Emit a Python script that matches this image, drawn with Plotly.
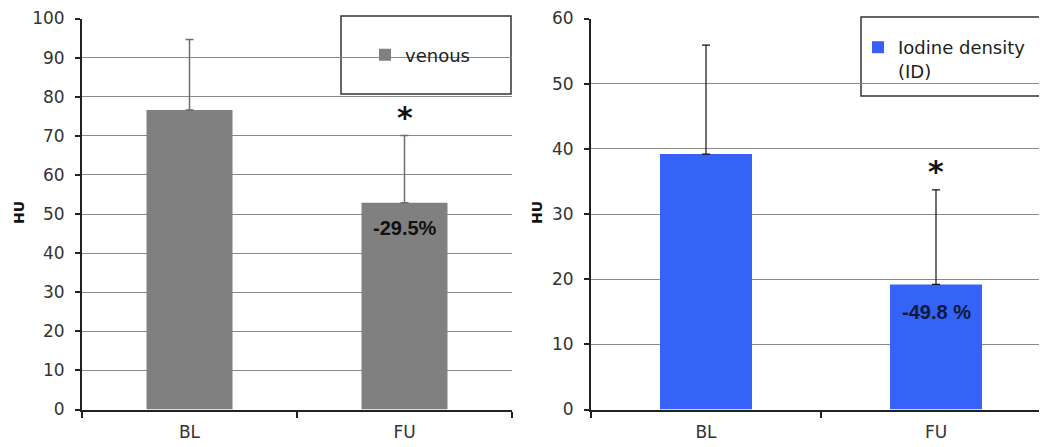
import plotly.graph_objects as go

# ---- data ----
categories = ["BL", "FU"]
venous_values = [76.6, 52.9]
venous_err = [18.0, 17.2]
id_values = [39.2, 19.2]
id_err = [16.7, 14.5]
venous_change = "-29.5%"
id_change = "-49.8 %"
left_ticks = list(range(0, 101, 10))
right_ticks = list(range(0, 61, 10))

W, H = 1047, 447
OFF = 8  # page body margin offset of the rendered figure


def px(x):
    return (x - OFF) / W


def py(y):
    return 1 - (y - OFF) / H


GRAY = "#808080"
BLUE = "#3562f7"
TICKFONT = dict(family="DejaVu Sans", size=17, color="#333333")

fig = go.Figure()

fig.add_trace(go.Bar(
    x=categories, y=venous_values, name="venous",
    marker=dict(color=GRAY, line=dict(width=0)),
    error_y=dict(type="data", symmetric=False, array=venous_err,
                 arrayminus=[0, 0], color="#6e6e6e", thickness=1.5, width=4),
    xaxis="x", yaxis="y", legend="legend",
))
fig.add_trace(go.Bar(
    x=categories, y=id_values, name="Iodine density<br>(ID)",
    marker=dict(color=BLUE, line=dict(width=0)),
    error_y=dict(type="data", symmetric=False, array=id_err,
                 arrayminus=[0, 0], color="#111111", thickness=1.2, width=4),
    xaxis="x2", yaxis="y2", legend="legend2",
))

x1_dom = [px(82), px(512)]
x2_dom = [px(591), 1.0]
y_dom = [py(409.5), py(18.5)]

# right plot is cut off at the image edge: category width 230 px
right_upper = -0.5 + (W - (591 - OFF)) / 230.0

common_x = dict(
    type="category", showgrid=False, showline=True, linecolor="#222222",
    linewidth=2, ticks="outside", tickson="boundaries", ticklen=6,
    tickcolor="#222222", tickwidth=2, tickfont=TICKFONT, automargin=False,
    fixedrange=True, ticklabelstandoff=6, ticklabeloverflow="allow",
)
common_y = dict(
    showgrid=True, gridcolor="#8a8a8a", gridwidth=1, showline=True,
    linecolor="#222222", linewidth=2, ticks="outside", ticklen=5,
    tickcolor="#222222", tickwidth=1.5, tickfont=TICKFONT, automargin=False,
    zeroline=False, dtick=10, fixedrange=True, ticklabelstandoff=7,
    ticklabeloverflow="allow",
)

fig.update_layout(
    width=W, height=H,
    margin=dict(l=0, r=0, t=0, b=0),
    paper_bgcolor="white", plot_bgcolor="white",
    bargap=0.6,
    showlegend=True,
    xaxis=dict(common_x, domain=x1_dom, anchor="y", range=[-0.5, 1.5]),
    yaxis=dict(common_y, domain=y_dom, anchor="x", range=[0, 100],
               tickvals=left_ticks),
    xaxis2=dict(common_x, domain=x2_dom, anchor="y2", range=[-0.5, right_upper]),
    yaxis2=dict(common_y, domain=y_dom, anchor="x2", range=[0, 60],
                tickvals=right_ticks),
    legend=dict(x=px(365), y=py(55), xanchor="left", yanchor="middle",
                bgcolor="rgba(0,0,0,0)", borderwidth=0,
                font=dict(family="DejaVu Sans", size=18, color="#222222"),
                itemwidth=30),
    legend2=dict(x=px(858), y=py(29), xanchor="left", yanchor="top",
                 bgcolor="rgba(0,0,0,0)", borderwidth=0, valign="top",
                 font=dict(family="DejaVu Sans", size=18, color="#222222"),
                 itemwidth=30),
    shapes=[
        dict(type="rect", xref="paper", yref="paper",
             x0=px(341), x1=px(511), y0=py(94), y1=py(16),
             line=dict(color="#333333", width=1.5), fillcolor="white",
             layer="below"),
        dict(type="rect", xref="paper", yref="paper",
             x0=px(861), x1=px(1070), y0=py(96), y1=py(17),
             line=dict(color="#333333", width=1.5), fillcolor="white",
             layer="below"),
    ],
    annotations=[
        dict(text="<b>*</b>", x="FU", y=venous_values[1] + venous_err[1],
             xref="x", yref="y", yshift=18, showarrow=False,
             font=dict(family="DejaVu Sans", size=30, color="#111111")),
        dict(text="<b>" + venous_change + "</b>", x="FU", y=venous_values[1],
             xref="x", yref="y", yshift=-25, showarrow=False,
             font=dict(family="Liberation Sans", size=20, color="#111111")),
        dict(text="<b>*</b>", x="FU", y=id_values[1] + id_err[1],
             xref="x2", yref="y2", yshift=18, showarrow=False,
             font=dict(family="DejaVu Sans", size=30, color="#111111")),
        dict(text="<b>" + id_change + "</b>", x="FU", y=id_values[1],
             xref="x2", yref="y2", yshift=-28, showarrow=False,
             font=dict(family="Liberation Sans", size=20, color="#0d1a3d")),
        dict(text="<b>HU</b>", textangle=-90, x=px(19), y=py(213),
             xref="paper", yref="paper", showarrow=False,
             xanchor="center", yanchor="middle",
             font=dict(family="DejaVu Sans", size=14, color="#111111")),
        dict(text="<b>HU</b>", textangle=-90, x=px(537), y=py(213),
             xref="paper", yref="paper", showarrow=False,
             xanchor="center", yanchor="middle",
             font=dict(family="DejaVu Sans", size=14, color="#111111")),
    ],
)

fig.write_html("out.html")
